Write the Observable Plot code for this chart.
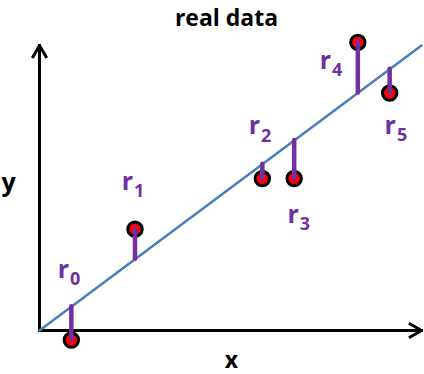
<!DOCTYPE html>
<html>
<head>
<meta charset="utf-8">
<script src="https://cdn.jsdelivr.net/npm/d3@7"></script>
<script src="https://cdn.jsdelivr.net/npm/@observablehq/plot@0.6"></script>
<style>
  html, body { margin: 0; padding: 0; background: #fff; }
  #chart svg { display: block; }
</style>
</head>
<body>
<div id="chart"></div>
<script>
// ---- data (arbitrary units) ----
const pointX   = [1, 3, 7, 8, 10, 11];
const pointY   = [-0.3, 3.2, 4.8, 4.8, 9.1, 7.5];
const fittedY  = [0.75, 2.25, 5.25, 6.0, 7.5, 8.25];
const subIndex = ["0", "1", "2", "3", "4", "5"];
const labelX   = [0.57, 2.58, 6.57, 7.79, 8.80, 10.84];
const labelY   = [1.67, 4.45, 6.19, 3.41, 8.27, 6.22];
const lineX    = [0, 12];
const lineY    = [0, 9];
const xMax = 12, yMax = 9;
const titleText = "real data";
const xLabel = "x", yLabel = "y";

const points = pointX.map((x, i) => ({x, y: pointY[i], fit: fittedY[i], sub: subIndex[i], lx: labelX[i], ly: labelY[i]}));
const fitLine = lineX.map((x, i) => ({x, y: lineY[i]}));
const axes = [{x1: 0, y1: 0, x2: xMax, y2: 0}, {x1: 0, y1: 0, x2: 0, y2: yMax}];

const font = "'Open Sans', sans-serif";
const purple = "#7030a0";

const chart = Plot.plot({
  width: 424,
  height: 374,
  marginLeft: 39,
  marginRight: 3,
  marginTop: 45,
  marginBottom: 44,
  x: {domain: [0, xMax], axis: null},
  y: {domain: [0, yMax], axis: null},
  style: {background: "white", overflow: "visible", fontFamily: font},
  marks: [
    Plot.arrow(axes, {x1: "x1", y1: "y1", x2: "x2", y2: "y2", stroke: "black", strokeWidth: 3, headLength: 6.5, headAngle: 60, strokeLinecap: "square"}),
    Plot.line(fitLine, {x: "x", y: "y", stroke: "#4a7ebb", strokeWidth: 2.5}),
    Plot.dot(points, {x: "x", y: "y", r: 7.2, fill: "#ff0000", stroke: "black", strokeWidth: 3}),
    Plot.ruleX(points, {x: "x", y1: "y", y2: "fit", stroke: purple, strokeWidth: 4.5, strokeLinecap: "round"}),
    Plot.text(points, {x: "lx", y: "ly", text: d => "r" + d.sub, fill: purple, fontSize: 25, fontWeight: "bold", textAnchor: "start", lineAnchor: "bottom"}),
    Plot.text([titleText], {frameAnchor: "top", text: d => d, fontSize: 23, fontWeight: "bold", fill: "black", lineAnchor: "bottom", dy: -20, dx: -4}),
    Plot.text([yLabel], {frameAnchor: "left", text: d => d, fontSize: 25, fontWeight: "bold", fill: "black", textAnchor: "middle", lineAnchor: "bottom", dx: -31, dy: 2.5}),
    Plot.text([xLabel], {frameAnchor: "bottom", text: d => d, fontSize: 23, fontWeight: "bold", fill: "black", textAnchor: "middle", lineAnchor: "bottom", dx: 1, dy: 37})
  ]
});

// turn "rN" labels into r with a subscript tspan
d3.select(chart).selectAll("text").each(function () {
  const t = d3.select(this);
  const s = t.text();
  const m = /^r(\d)$/.exec(s);
  if (!m) return;
  t.text("r");
  t.append("tspan").attr("dx", 1).attr("dy", 7.5).attr("font-size", 18).text(m[1]);
});

document.getElementById("chart").appendChild(chart);
</script>
</body>
</html>
